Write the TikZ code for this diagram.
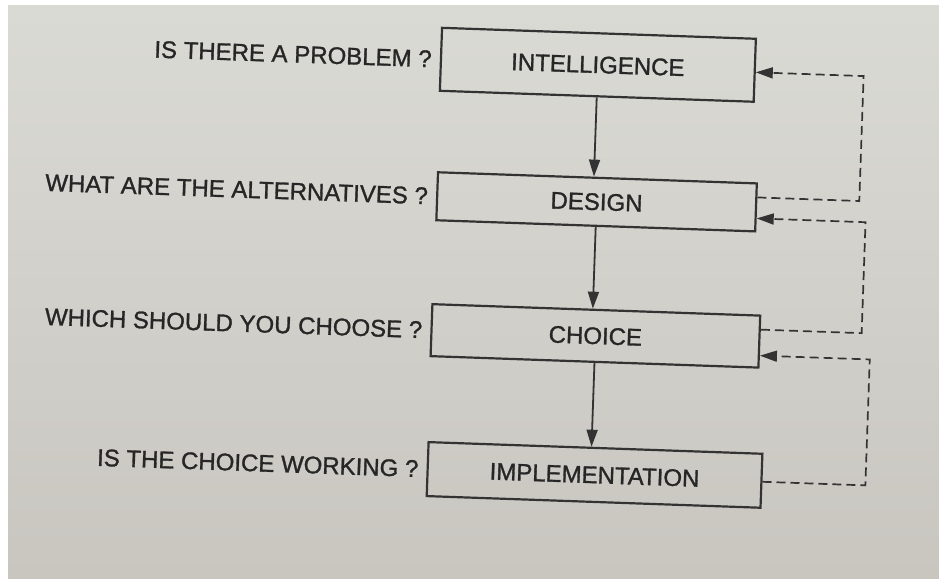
\documentclass[tikz,border=0pt]{standalone}
\usepackage{fontspec}
\setmainfont{Liberation Sans}[FakeBold=1.2]
\newfontfamily\labelfont{Liberation Sans}[FakeBold=1.2]
\usetikzlibrary{arrows.meta,calc}

\definecolor{paperTop}{HTML}{DADAD5}
\definecolor{paperBot}{HTML}{C9C6C0}
\definecolor{ink}{HTML}{333333}
\definecolor{inktext}{HTML}{262626}

\tikzset{
  stage/.style={draw=ink, line width=2.2pt, inner sep=0pt, text=inktext,
                font=\labelfont\fontsize{24}{28}\selectfont},
  question/.style={inner sep=0pt, anchor=east, text=inktext,
                   font=\labelfont\fontsize{24}{28}\selectfont},
  flow/.style={draw=ink, line width=1.8pt,
               -{Triangle[length=17pt,width=11pt]}},
  loopback/.style={draw=ink, line width=1.7pt, dash pattern=on 9pt off 5pt,
                   -{Triangle[length=17pt,width=11pt]}}
}

\begin{document}
\begin{tikzpicture}[x=1pt,y=-1pt]
  % page area
  \useasboundingbox (0,0) rectangle (939,578);
  \fill[white] (0,0) rectangle (939,578);
  \shade[top color=paperTop, bottom color=paperBot] (8,6) rectangle (939,578);

  \begin{scope}[rotate around={-2:(600,290)}, transform shape]
    % the four stages of decision making
    \node[stage, minimum width=314pt, minimum height=63pt] (I)   at (590,65)    {INTELLIGENCE};
    \node[stage, minimum width=319pt, minimum height=48pt] (D)   at (593.5,202) {DESIGN};
    \node[stage, minimum width=328pt, minimum height=52pt] (C)   at (597,336)   {CHOICE};
    \node[stage, minimum width=334pt, minimum height=54pt] (M)   at (601,475)   {IMPLEMENTATION};

    % the question each stage answers
    \node[question] (qI) at ([xshift=-8pt]I.west) {IS THERE A PROBLEM ?};
    \node[question] (qD) at ([xshift=-8pt]D.west) {WHAT ARE THE ALTERNATIVES ?};
    \node[question] (qC) at ([xshift=-8pt]C.west) {WHICH SHOULD YOU CHOOSE ?};
    \node[question] (qM) at ([xshift=-8pt]M.west) {IS THE CHOICE WORKING ?};

    % forward flow
    \draw[flow] (I.south) -- (I.south |- D.north);
    \draw[flow] (D.south) -- (D.south |- C.north);
    \draw[flow] (C.south) -- (C.south |- M.north);

    % feedback to the previous stage
    \coordinate (v1) at (856,0);
    \coordinate (v2) at (863,0);
    \coordinate (v3) at (872,0);

    \coordinate (dOut) at ([yshift=10pt]D.east);
    \coordinate (iIn)  at ([yshift=-2pt]I.east);
    \draw[loopback] (dOut) -- (dOut -| v1) -- (iIn -| v1) -- (iIn);

    \coordinate (cOut) at ([yshift=12pt]C.east);
    \coordinate (dIn)  at ([yshift=-11pt]D.east);
    \draw[loopback] (cOut) -- (cOut -| v2) -- (dIn -| v2) -- (dIn);

    \coordinate (mOut) at ([yshift=-1pt]M.east);
    \coordinate (cIn)  at ([yshift=-14pt]C.east);
    \draw[loopback] (mOut) -- (mOut -| v3) -- (cIn -| v3) -- (cIn);
  \end{scope}
\end{tikzpicture}
\end{document}
